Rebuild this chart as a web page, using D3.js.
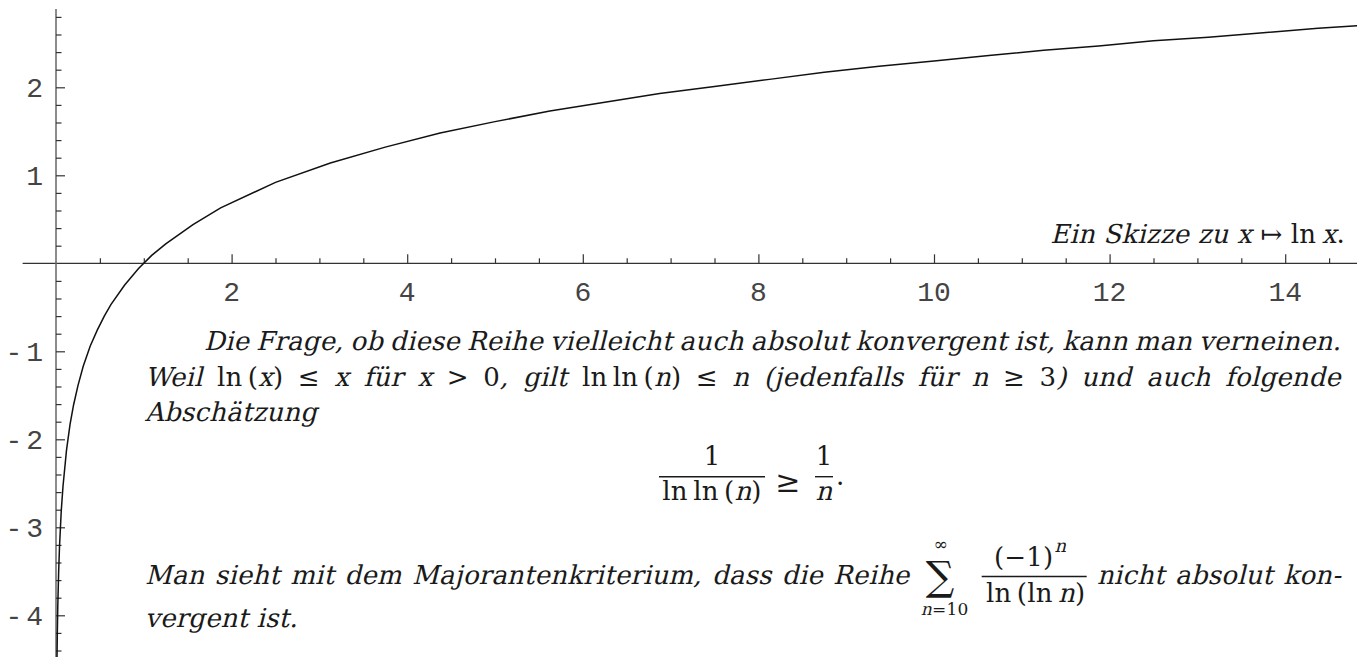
<!DOCTYPE html>
<html>
<head>
<meta charset="utf-8">
<script src="https://cdn.jsdelivr.net/npm/d3@7"></script>
<style>
  body { margin: 0; background: #fff; }
  svg { display: block; }
  text { font-family: "DejaVu Serif", "Liberation Serif", serif; fill: #1a1a1a; letter-spacing: 0.2px; }
  .tick-label { font-family: "Liberation Mono", "Courier New", monospace; font-size: 28px; fill: #444; letter-spacing: 0; }
  .ylab { letter-spacing: 4px; }
</style>
</head>
<body>
<script>
// samples of the plotted curve x -> ln x
const curveX = [0.011, 0.015, 0.02, 0.03, 0.04, 0.06, 0.08, 0.12, 0.16, 0.2, 0.25, 0.31, 0.39, 0.47, 0.55,
  0.625, 0.78, 0.94, 1.09, 1.25, 1.56, 1.875, 2.5, 3.125, 3.75, 4.375, 5, 5.625, 6.25, 6.875,
  7.5, 8.125, 8.75, 9.375, 10, 10.625, 11.25, 11.875, 12.5, 13.125, 13.75, 14.375, 15];
const curveY = [-4.51, -4.20, -3.91, -3.51, -3.22, -2.81, -2.53, -2.12, -1.83, -1.61, -1.39, -1.17, -0.94, -0.76, -0.60,
  -0.47, -0.25, -0.06, 0.09, 0.22, 0.44, 0.63, 0.92, 1.14, 1.32, 1.48, 1.61, 1.73, 1.83, 1.93,
  2.01, 2.09, 2.17, 2.24, 2.30, 2.36, 2.42, 2.47, 2.53, 2.57, 2.62, 2.67, 2.71];

// axis ticks and labels
const xMajor = [2, 4, 6, 8, 10, 12, 14];
const xLabels = ["2", "4", "6", "8", "10", "12", "14"];
const xMinor = [0.5, 1, 1.5, 2.5, 3, 3.5, 4.5, 5, 5.5, 6.5, 7, 7.5, 8.5, 9, 9.5, 10.5, 11, 11.5, 12.5, 13, 13.5, 14.5];
const yMajor = [-4, -3, -2, -1, 1, 2];
const yLabels = ["-4", "-3", "-2", "-1", "1", "2"];
const yMinor = [-4.4, -4.2, -3.8, -3.6, -3.4, -3.2, -2.8, -2.6, -2.4, -2.2, -1.8, -1.6, -1.4, -1.2,
  -0.8, -0.6, -0.4, -0.2, 0.2, 0.4, 0.6, 0.8, 1.2, 1.4, 1.6, 1.8, 2.2, 2.4, 2.6, 2.8];

const width = 1357, height = 657;
const svg = d3.select("body").append("svg").attr("width", width).attr("height", height);

const x = d3.scaleLinear().domain([0, 15]).range([56, 56 + 15 * 87.8]);
const y = d3.scaleLinear().domain([-4.5, 3]).range([263.3 + 4.5 * 88, 263.3 - 3 * 88]);

// axis lines
svg.append("line")
  .attr("x1", x(-0.38)).attr("x2", width)
  .attr("y1", y(0)).attr("y2", y(0))
  .attr("stroke", "#333").attr("stroke-width", 1.3);
svg.append("line")
  .attr("x1", x(0)).attr("x2", x(0))
  .attr("y1", y(2.89)).attr("y2", y(-4.6))
  .attr("stroke", "#666").attr("stroke-width", 1.5);

function tickGroup(axis, size, transform) {
  const g = svg.append("g").attr("transform", transform)
    .call(axis.tickSize(size).tickFormat(""));
  g.select(".domain").remove();
  g.selectAll("text").remove();
  g.selectAll(".tick line").attr("stroke", "#333").attr("stroke-width", 1.2);
}
tickGroup(d3.axisTop(x).tickValues(xMajor), 9, `translate(0,${y(0)})`);
tickGroup(d3.axisTop(x).tickValues(xMinor), 5, `translate(0,${y(0)})`);
tickGroup(d3.axisRight(y).tickValues(yMajor), 9, `translate(${x(0)},0)`);
tickGroup(d3.axisRight(y).tickValues(yMinor), 5.5, `translate(${x(0)},0)`);

svg.selectAll(".xl").data(xMajor).enter().append("text")
  .attr("class", "tick-label")
  .attr("x", d => x(d)).attr("y", 300.5)
  .attr("text-anchor", "middle")
  .text((d, i) => xLabels[i]);
svg.selectAll(".yl").data(yMajor).enter().append("text")
  .attr("class", "tick-label ylab")
  .attr("x", 47).attr("y", d => y(d) + 10)
  .attr("text-anchor", "end")
  .text((d, i) => yLabels[i]);

// the curve
const pts = curveX.map((v, i) => [v, curveY[i]]);
svg.append("path")
  .datum(pts)
  .attr("fill", "none")
  .attr("stroke", "#111")
  .attr("stroke-width", 1.5)
  .attr("d", d3.line().x(d => x(d[0])).y(d => y(d[1])));

// ---- text ----
// italic pieces are the upright serif slanted
const FS = 26;
function run(parent, px, py, segs, size, anchor) {
  const g = parent.append("g");
  let cx = 0;
  segs.forEach(([s, f]) => {
    const t = g.append("text").attr("font-size", size || FS).text(s);
    const w = t.node().getComputedTextLength();
    t.attr("transform", f === "r" ? `translate(${cx},0)` : `translate(${cx},0) skewX(-14)`);
    cx += w;
  });
  const r = {
    w: cx,
    at(p) {
      const off = anchor === "middle" ? -cx / 2 : anchor === "end" ? -cx : 0;
      g.attr("transform", `translate(${p + off},${py})`);
      return r;
    }
  };
  return r.at(px);
}
// place words (or fixed blocks) so the line runs from left to right
function justify(left, right, py, items) {
  const parts = items.map(it => it.block ? it : run(svg, 0, py, it));
  const gap = parts.length > 1 ? (right - left - d3.sum(parts, p => p.w)) / (parts.length - 1) : 0;
  let cx = left;
  parts.forEach(p => { p.at(cx); cx += p.w + gap; });
}
const W = s => [[s, "i"]];
const words = s => s.split(" ").map(W);
const sp = "\u00A0", thin = "\u2009";

// cut off line at the very top
justify(215, 1010, -6, words("Nach Leibniz ist also diese Reihe konvergent."));

// caption at the axis
run(svg, 1345, 243, [["Ein" + sp + "Skizze" + sp + "zu" + sp, "i"], ["x", "m"], [sp + "\u21A6" + sp + "ln" + thin, "r"], ["x", "m"], [".", "r"]], FS, "end");

const R = 1341;
justify(204, R, 350, words("Die Frage, ob diese Reihe vielleicht auch absolut konvergent ist, kann man verneinen."));
justify(145, R, 386, [
  W("Weil"), [["ln" + thin + "(", "r"], ["x", "m"], [")", "r"]], [["\u2264", "r"]], [["x", "m"]], W("f\u00FCr"),
  [["x", "m"]], [[">", "r"]], [["0", "r"], [",", "i"]], W("gilt"),
  [["ln" + thin + "ln" + thin + "(", "r"], ["n", "m"], [")", "r"]], [["\u2264", "r"]], [["n", "m"]],
  W("(jedenfalls"), W("f\u00FCr"), [["n", "m"]], [["\u2265", "r"]], [["3", "r"], [")", "i"]],
  W("und"), W("auch"), W("folgende")
]);
run(svg, 145, 421, W("Absch\u00E4tzung"));

// display inequality
function frac(cx, num, den, x0, x1) {
  run(svg, cx, 465, num, FS, "middle");
  run(svg, cx, 500, den, FS, "middle");
  svg.append("line").attr("x1", x0).attr("x2", x1).attr("y1", 476.7).attr("y2", 476.7)
    .attr("stroke", "#1a1a1a").attr("stroke-width", 1.4);
}
frac(712, [["1", "r"]], [["ln" + thin + "ln" + thin + "(", "r"], ["n", "m"], [")", "r"]], 659, 765);
run(svg, 788, 492, [["\u2265", "r"]], 30, "middle");
frac(824, [["1", "r"]], [["n", "m"]], 815, 833);
run(svg, 836, 485, [[".", "r"]]);

// line with the series; the sum is one fixed block inside the justified line
const sumBlock = {
  block: true, w: 167,
  at(L) {
    const g = svg.append("g").attr("transform", `translate(${L},0)`);
    run(g, 20.5, 590, [["\u2211", "r"]], 40, "middle");
    run(g, 21, 550, [["\u221E", "r"]], 17, "middle");
    run(g, 25, 615, [["n", "m"], ["=10", "r"]], 17, "middle");
    const num = run(g, 104, 566, [["(\u22121)", "r"]], FS, "middle");
    run(g, 104 + num.w / 2 + 1, 552, [["n", "m"]], 18);
    g.append("line").attr("x1", 62).attr("x2", 167).attr("y1", 576.5).attr("y2", 576.5)
      .attr("stroke", "#1a1a1a").attr("stroke-width", 1.4);
    run(g, 116, 602, [["ln" + thin + "(ln" + thin, "r"], ["n", "m"], [")", "r"]], FS, "middle");
  }
};
justify(145, R, 584, [
  ...words("Man sieht mit dem Majorantenkriterium, dass die Reihe"),
  sumBlock,
  ...words("nicht absolut kon-")
]);
run(svg, 145, 627, W("vergent ist."));
</script>
</body>
</html>
